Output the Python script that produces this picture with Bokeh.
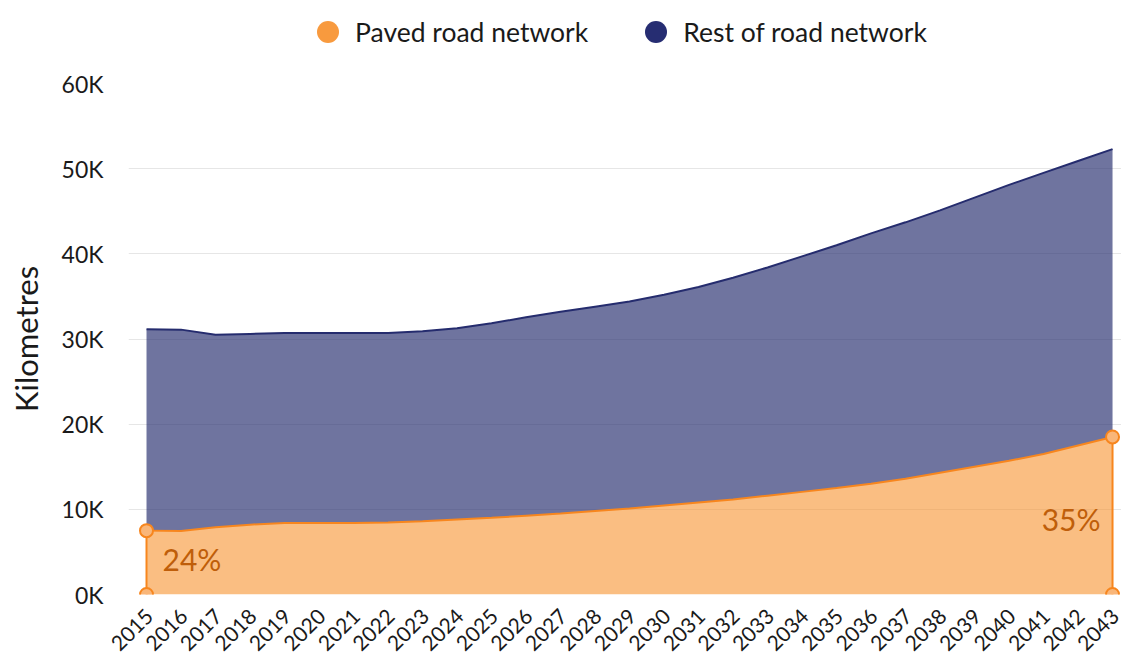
import math
from bokeh.plotting import figure
from bokeh.layouts import column
from bokeh.models import (ColumnDataSource, FixedTicker, CustomJSTickFormatter,
                          Legend, LegendItem, Range1d)
from bokeh.core.properties import value
from bokeh.embed import file_html
from bokeh.resources import INLINE

# ---------------- data ----------------
years = list(range(2015, 2044))
paved = [7500, 7450, 7900, 8200, 8400, 8400, 8400, 8450, 8600, 8800,
         9000, 9250, 9500, 9800, 10100, 10450, 10800, 11150, 11600, 12050,
         12500, 13000, 13600, 14300, 15000, 15700, 16500, 17500, 18500]
rest = [23650, 23650, 22600, 22400, 22300, 22300, 22300, 22250, 22300, 22450,
        22850, 23300, 23700, 24000, 24300, 24750, 25300, 26050, 26800, 27650,
        28500, 29400, 30100, 30800, 31600, 32400, 33000, 33400, 33800]
series_names = ["Paved road network", "Rest of road network"]
y_ticks = [0, 10000, 20000, 30000, 40000, 50000, 60000]

# ---------------- style ----------------
FONT = "Lato"
ORANGE = "#F7922F"
ORANGE_LINE = "#F7861E"
ORANGE_TEXT = "#BF5E0A"
NAVY = "#252C6E"
TEXT = "#1a1a1a"
W = 1121
LABEL_SHIFT = 0.08  # visual nudge of rotated year labels (in years)

total = [a + b for a, b in zip(paved, rest)]
src = ColumnDataSource(dict(year=years, paved=paved, total=total, zero=[0] * len(years)))

# ---------------- legend strip ----------------
leg = figure(width=W, height=63, output_backend="svg", toolbar_location=None,
             x_range=Range1d(0, 1), y_range=Range1d(0, 1),
             x_axis_location=None, y_axis_location=None,
             min_border=0)
leg.outline_line_color = None
leg.grid.grid_line_color = None
r1 = leg.scatter(x=[-5], y=[-5], marker="circle", size=22, fill_color="#F89A3E", line_color=None)
r2 = leg.scatter(x=[-5], y=[-5], marker="circle", size=22, fill_color="#262D72", line_color=None)
legend = Legend(items=[LegendItem(label=series_names[0], renderers=[r1]),
                       LegendItem(label=series_names[1], renderers=[r2])],
                orientation="horizontal", location=(172, 4),
                glyph_width=55, glyph_height=55, label_standoff=0, spacing=40,
                padding=0, margin=0, border_line_color=None,
                background_fill_alpha=0,
                label_text_font=FONT, label_text_font_size="26.5px",
                label_text_color=TEXT)
leg.add_layout(legend, "center")

# ---------------- main chart ----------------
p = figure(width=W, height=599, output_backend="svg", toolbar_location=None,
           x_range=Range1d(2014.478, 2043.26), y_range=Range1d(0, 60000),
           min_border_left=128, min_border_right=0, min_border_top=20,
           min_border_bottom=68)
p.outline_line_color = None

p.varea(x="year", y1="zero", y2="paved", source=src, fill_color=ORANGE, fill_alpha=0.6)
p.varea(x="year", y1="paved", y2="total", source=src, fill_color=NAVY, fill_alpha=0.66)
p.line("year", "paved", source=src, line_color=ORANGE_LINE, line_width=2)
p.line("year", "total", source=src, line_color=NAVY, line_width=2)

# end markers
ex = [years[0], years[-1]]
p.segment(x0=ex, y0=[0, 0], x1=ex, y1=[paved[0], paved[-1]],
          line_color=ORANGE_LINE, line_width=2)
p.scatter(x=[years[0], years[0], years[-1], years[-1]],
          y=[0, paved[0], 0, paved[-1]], size=13, marker="circle",
          fill_color="#F9B679", line_color=ORANGE_LINE, line_width=2)

pct0 = "%d%%" % round(100 * paved[0] / total[0])
pct1 = "%d%%" % round(100 * paved[-1] / total[-1])
p.text(x=[years[0]], y=[paved[0]], text=[pct0], x_offset=16, y_offset=28,
       text_align="left", text_baseline="middle", text_color=ORANGE_TEXT,
       text_font=value(FONT), text_font_size="30px")
p.text(x=[years[-1]], y=[paved[-1]], text=[pct1], x_offset=-12, y_offset=82,
       text_align="right", text_baseline="middle", text_color=ORANGE_TEXT,
       text_font=value(FONT), text_font_size="30px")

# axes
p.xgrid.grid_line_color = None
p.ygrid.grid_line_color = "#e6e6e6"
p.ygrid.grid_line_width = 1

p.yaxis.ticker = FixedTicker(ticks=y_ticks)
p.yaxis.formatter = CustomJSTickFormatter(code="return (tick/1000).toFixed(0) + 'K';")
p.yaxis.axis_line_color = None
p.yaxis.major_tick_line_color = None
p.yaxis.minor_tick_line_color = None
p.yaxis.major_label_text_font = FONT
p.yaxis.major_label_text_font_size = "23px"
p.yaxis.major_label_text_color = TEXT
p.yaxis.major_label_standoff = 19
p.yaxis.axis_label = "Kilometres"
p.yaxis.axis_label_text_font = FONT
p.yaxis.axis_label_text_font_size = "31px"
p.yaxis.axis_label_text_font_style = "normal"
p.yaxis.axis_label_text_color = TEXT
p.yaxis.axis_label_standoff = 14

# year labels (ticks invisible; labels nudged right like the original)
p.xaxis.ticker = FixedTicker(ticks=[y + LABEL_SHIFT for y in years])
p.xaxis.formatter = CustomJSTickFormatter(code="return Math.round(tick).toString();")
p.xaxis.axis_line_color = None
p.xaxis.major_tick_line_color = None
p.xaxis.minor_tick_line_color = None
p.xaxis.major_label_orientation = math.pi / 4
p.xaxis.major_label_text_font = FONT
p.xaxis.major_label_text_font_size = "21px"
p.xaxis.major_label_text_color = TEXT
p.xaxis.major_label_standoff = 12

layout = column(leg, p, spacing=0)
open("out.html", "w").write(file_html(layout, INLINE))
